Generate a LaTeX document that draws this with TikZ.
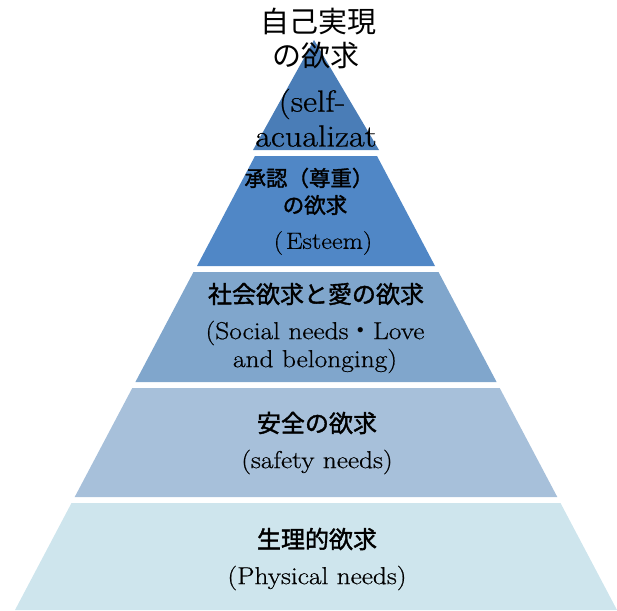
\documentclass[tikz,border=0pt]{standalone}
\usepackage{fontspec}
\setmainfont{Latin Modern Roman}[FakeStretch=1.12, FakeBold=0.6]
\newfontfamily\jp{Noto Sans CJK JP}
\newfontfamily\jpb{Noto Sans CJK JP}[FakeBold=1.6]
\definecolor{lay1}{HTML}{4A7DB7}
\definecolor{lay2}{HTML}{5087C6}
\definecolor{lay3}{HTML}{80A6CC}
\definecolor{lay4}{HTML}{A7C0DA}
\definecolor{lay5}{HTML}{CEE5ED}
\tikzset{
  layer/.style={fill=#1, draw=none},
  jtop/.style={inner sep=0pt, text=black, font=\jp\fontsize{29}{34}\selectfont},
  ltop/.style={inner sep=0pt, text=black, font=\fontsize{30.5}{36}\selectfont},
  jlbl/.style={inner sep=0pt, text=black, font=\jpb\fontsize{#1}{#1}\selectfont},
  llbl/.style={inner sep=0pt, text=black, font=\fontsize{#1}{#1}\selectfont}
}
\begin{document}
\begin{tikzpicture}[x=1pt,y=-1pt]
\useasboundingbox (0,0) rectangle (617,610);
% layers
\fill[layer=lay1] (314,40) -- (379,150) -- (253,150) -- cycle;
\fill[layer=lay2] (255,156) -- (377,156) -- (435,266) -- (197,266) -- cycle;
\fill[layer=lay3] (193.5,272) -- (438.5,272) -- (496.6,382) -- (135.4,382) -- cycle;
\fill[layer=lay4] (132.3,388) -- (499.7,388) -- (557.3,497) -- (74.7,497) -- cycle;
\fill[layer=lay5] (71.5,503) -- (560.5,503) -- (617,610) -- (15,610) -- cycle;
% top
\node[jtop] (t1a) at (318,22) {自己実現};
\node[jtop] (t1b) at (316,55) {の欲求};
\node[ltop] (t1c) at (312,104) {(self-};
\node[ltop] (t1d) at (316,136) {acualizat};
% esteem
\node[jlbl=21.5] (t2a) at (309,178) {承認（尊重）};
\node[jlbl=21.5] (t2b) at (315,205) {の欲求};
\node[llbl=23.5] (t2c) at (323,243) {(\hspace{3pt}Esteem)};
% social
\node[jlbl=24] (t3a) at (316,294) {社会欲求と愛の欲求};
\node[llbl=24.5] (t3b) at (315,333) {(Social needs{\jp ・}Love};
\node[llbl=24.5] (t3c) at (315,361) {and belonging)};
% safety
\node[jlbl=24] (t4a) at (317,423) {安全の欲求};
\node[llbl=24.5] (t4b) at (317,462) {(safety needs)};
% physical
\node[jlbl=24] (t5a) at (317,539) {生理的欲求};
\node[llbl=24.5] (t5b) at (317,578) {(Physical needs)};
\end{tikzpicture}
\end{document}
